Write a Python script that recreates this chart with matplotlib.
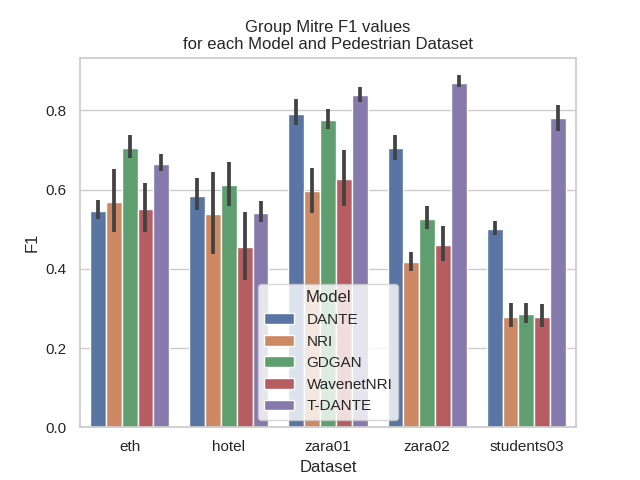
import matplotlib
matplotlib.use("Agg")
import matplotlib.pyplot as plt
import seaborn as sns
import pandas as pd
import numpy as np

datasets = ["eth", "hotel", "zara01", "zara02", "students03"]
models = ["DANTE", "NRI", "GDGAN", "WavenetNRI", "T-DANTE"]

# mean F1 per model, ordered by datasets
f1_dante = [0.547, 0.584, 0.792, 0.705, 0.501]
f1_nri = [0.569, 0.539, 0.597, 0.416, 0.278]
f1_gdgan = [0.705, 0.612, 0.775, 0.527, 0.286]
f1_wavenet = [0.552, 0.455, 0.627, 0.461, 0.278]
f1_tdante = [0.665, 0.542, 0.838, 0.870, 0.780]

# confidence interval low / high
lo_dante = [0.526, 0.548, 0.762, 0.676, 0.486]
hi_dante = [0.574, 0.629, 0.828, 0.737, 0.521]
lo_nri = [0.494, 0.438, 0.541, 0.395, 0.252]
hi_nri = [0.651, 0.644, 0.655, 0.442, 0.313]
lo_gdgan = [0.679, 0.558, 0.752, 0.501, 0.263]
hi_gdgan = [0.737, 0.669, 0.803, 0.558, 0.313]
lo_wavenet = [0.494, 0.373, 0.558, 0.420, 0.252]
hi_wavenet = [0.616, 0.543, 0.699, 0.509, 0.310]
lo_tdante = [0.646, 0.518, 0.822, 0.859, 0.748]
hi_tdante = [0.689, 0.572, 0.859, 0.889, 0.814]

means = [f1_dante, f1_nri, f1_gdgan, f1_wavenet, f1_tdante]
lows = [lo_dante, lo_nri, lo_gdgan, lo_wavenet, lo_tdante]
highs = [hi_dante, hi_nri, hi_gdgan, hi_wavenet, hi_tdante]

rows = []
for m, vals in zip(models, means):
    for d, v in zip(datasets, vals):
        rows.append({"Dataset": d, "Model": m, "F1": v})
df = pd.DataFrame(rows)

sns.set_theme(style="whitegrid")
plt.rcParams["font.family"] = ["Liberation Sans", "DejaVu Sans"]
fig, ax = plt.subplots(figsize=(6.4, 4.8), dpi=100)
sns.barplot(data=df, x="Dataset", y="F1", hue="Model", order=datasets,
            hue_order=models, errorbar=None, ax=ax)

for cont, mv, lv, hv in zip(ax.containers, means, lows, highs):
    xs = [b.get_x() + b.get_width() / 2 for b in cont]
    ax.vlines(xs, lv, hv, colors="#424242", linewidth=2.7, zorder=3,
              capstyle="butt")

ax.set_xlim(-0.5, len(datasets) - 0.5)
ax.set_title("Group Mitre F1 values\nfor each Model and Pedestrian Dataset")
ax.legend(title="Model", loc="lower center")
fig.savefig("out.png", dpi=100)
